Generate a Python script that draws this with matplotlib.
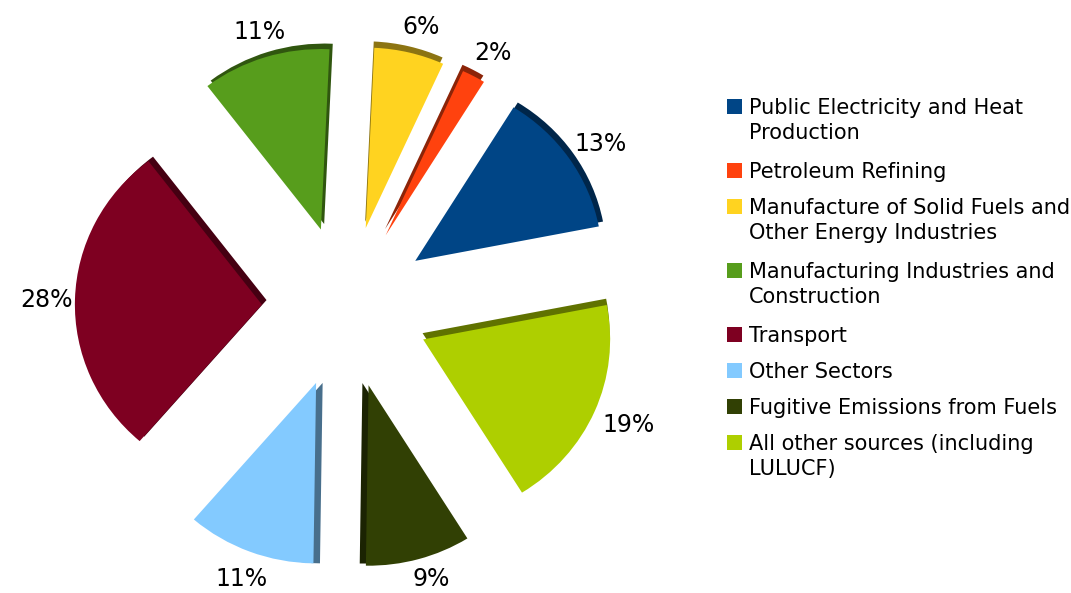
import matplotlib.pyplot as plt
import numpy as np
from matplotlib.patches import Wedge, Rectangle

# emissions share by source category (%)
sectors = [
    'Public Electricity and Heat\nProduction',
    'Petroleum Refining',
    'Manufacture of Solid Fuels and\nOther Energy Industries',
    'Manufacturing Industries and\nConstruction',
    'Transport',
    'Other Sectors',
    'Fugitive Emissions from Fuels',
    'All other sources (including\nLULUCF)',
]
shares = [13, 2, 6, 11, 28, 11, 9, 19]
colors = ['#004586', '#ff420e', '#ffd320', '#579d1c',
          '#7e0021', '#83caff', '#314004', '#aecf00']

# direction (deg) of the darker side face of each slice
side_dir = [50, 95, 95, 60, 45, 0, 160, 95]

W, H = 1071, 593
fig = plt.figure(figsize=(W / 100, H / 100), dpi=100)
ax = fig.add_axes([0, 0, 1, 1])

R = 187.0          # radius in px
k = 0.965          # slight vertical squash (tilted look)
cx, cy = 346, 307  # pie centre in px (from top-left)

wedges, _ = ax.pie(shares, colors=colors, startangle=11, counterclock=True,
                   explode=[0.45] * len(shares), radius=1.0,
                   wedgeprops=dict(linewidth=0, zorder=3))

# fake 3d depth: darker copy of each wedge slightly offset
depth = 0.035
for w, d in zip(wedges, side_dir):
    r, g, b, _ = w.get_facecolor()
    dx, dy = depth * np.cos(np.radians(d)), depth * np.sin(np.radians(d))
    sh = Wedge((w.center[0] + dx, w.center[1] + dy), w.r, w.theta1, w.theta2,
               facecolor=(r * 0.55, g * 0.55, b * 0.55), linewidth=0, zorder=2)
    ax.add_patch(sh)

ax.set_xlim(-cx / R, (W - cx) / R)
ax.set_ylim(-(H - cy) / (R * k), cy / (R * k))
ax.set_aspect('auto')
ax.axis('off')

# percentage labels around the pie (placed in px, then mapped to data)
for w, v in zip(wedges, shares):
    tm = np.radians((w.theta1 + w.theta2) / 2)
    px = 350 + 304 * np.cos(tm)
    py = min(309 - 290 * np.sin(tm), 579)
    ax.text((px - cx) / R, (cy - py) / (R * k), '%d%%' % v,
            fontsize=17, ha='center', va='center')

# legend, drawn by hand
def fx(x):
    return x / W

def fy(y):
    return 1 - y / H

y = 99
for name, c in zip(sectors, colors):
    fig.add_artist(Rectangle((fx(727), fy(y + 15)), 15 / W, 15 / H,
                             transform=fig.transFigure, facecolor=c, linewidth=0))
    lines = name.split('\n')
    for i, ln in enumerate(lines):
        fig.text(fx(749), fy(y + 9 + 25 * i), ln, fontsize=15,
                 ha='left', va='center')
    y += 36 + 28 * (len(lines) - 1)

fig.savefig('out.png', dpi=100)
